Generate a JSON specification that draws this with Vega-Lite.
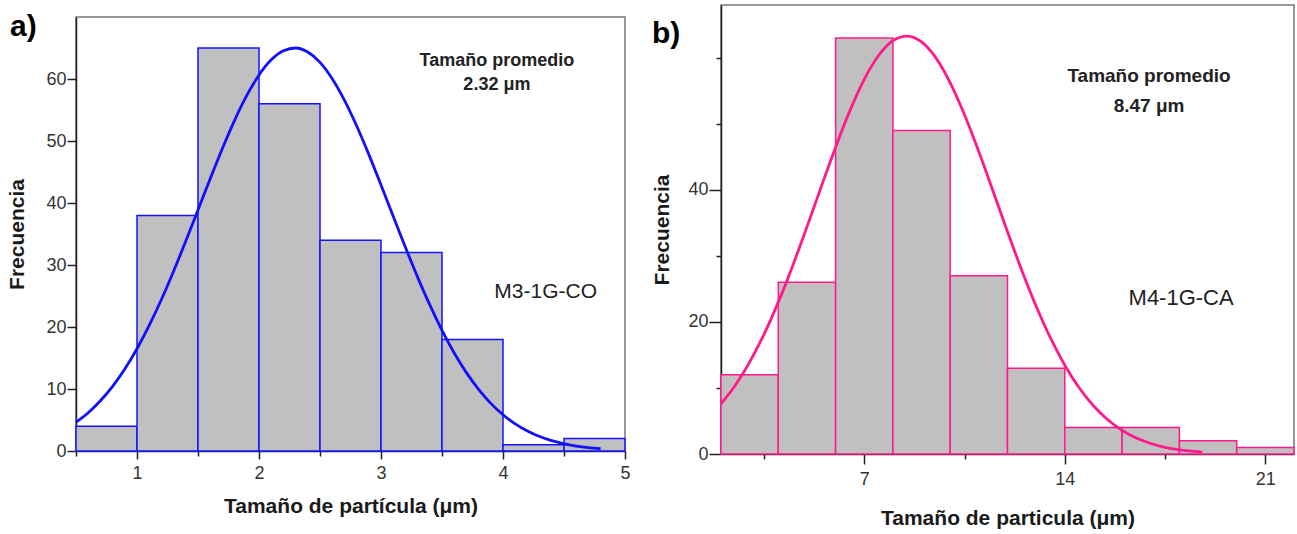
{
  "$schema": "https://vega.github.io/schema/vega-lite/v6.json",
  "background": "white",
  "padding": {"left": 6, "top": 4, "right": 0, "bottom": 0},
  "spacing": 20,
  "config": {
    "font": "Liberation Sans",
    "view": {"stroke": "#777777", "strokeWidth": 1.5},
    "axis": {
      "grid": false,
      "labelFont": "Liberation Sans",
      "labelFontSize": 18,
      "labelColor": "#333333",
      "titleFont": "Liberation Sans",
      "titleFontSize": 21,
      "titleFontWeight": "bold",
      "titleColor": "#1a1a1a",
      "domainColor": "#222222",
      "domainWidth": 1.5,
      "tickColor": "#222222",
      "tickWidth": 1.5,
      "format": "~g"
    },
    "title": {"font": "Liberation Sans", "fontSize": 30, "fontWeight": "bold", "color": "#000000"}
  },
  "datasets": {
    "barsA": [
      {"x0": 0.5, "x1": 1.0, "count": 4},
      {"x0": 1.0, "x1": 1.5, "count": 38},
      {"x0": 1.5, "x1": 2.0, "count": 65},
      {"x0": 2.0, "x1": 2.5, "count": 56},
      {"x0": 2.5, "x1": 3.0, "count": 34},
      {"x0": 3.0, "x1": 3.5, "count": 32},
      {"x0": 3.5, "x1": 4.0, "count": 18},
      {"x0": 4.0, "x1": 4.5, "count": 1},
      {"x0": 4.5, "x1": 5.0, "count": 2}
    ],
    "curveA": [
      {"x": 0.5, "y": 4.64}, {"x": 0.6, "y": 6.18}, {"x": 0.7, "y": 8.11}, {"x": 0.8, "y": 10.44},
      {"x": 0.9, "y": 13.23}, {"x": 1.0, "y": 16.5}, {"x": 1.1, "y": 20.25}, {"x": 1.2, "y": 24.43},
      {"x": 1.3, "y": 29.0}, {"x": 1.4, "y": 33.86}, {"x": 1.5, "y": 38.88}, {"x": 1.6, "y": 43.92},
      {"x": 1.7, "y": 48.8}, {"x": 1.8, "y": 53.34}, {"x": 1.9, "y": 57.35}, {"x": 2.0, "y": 60.65},
      {"x": 2.1, "y": 63.09}, {"x": 2.2, "y": 64.57}, {"x": 2.3, "y": 65.0}, {"x": 2.4, "y": 64.35},
      {"x": 2.5, "y": 62.68}, {"x": 2.6, "y": 60.05}, {"x": 2.7, "y": 56.6}, {"x": 2.8, "y": 52.46},
      {"x": 2.9, "y": 47.84}, {"x": 3.0, "y": 42.91}, {"x": 3.1, "y": 37.86}, {"x": 3.2, "y": 32.86},
      {"x": 3.3, "y": 28.05}, {"x": 3.4, "y": 23.56}, {"x": 3.5, "y": 19.46}, {"x": 3.6, "y": 15.81},
      {"x": 3.7, "y": 12.64}, {"x": 3.8, "y": 9.94}, {"x": 3.9, "y": 7.68}, {"x": 4.0, "y": 5.84},
      {"x": 4.1, "y": 4.37}, {"x": 4.2, "y": 3.22}, {"x": 4.3, "y": 2.33}, {"x": 4.4, "y": 1.66},
      {"x": 4.5, "y": 1.16}, {"x": 4.6, "y": 0.8}, {"x": 4.7, "y": 0.54}, {"x": 4.8, "y": 0.36}
    ],
    "barsB": [
      {"x0": 2, "x1": 4, "count": 12},
      {"x0": 4, "x1": 6, "count": 26},
      {"x0": 6, "x1": 8, "count": 63},
      {"x0": 8, "x1": 10, "count": 49},
      {"x0": 10, "x1": 12, "count": 27},
      {"x0": 12, "x1": 14, "count": 13},
      {"x0": 14, "x1": 16, "count": 4},
      {"x0": 16, "x1": 18, "count": 4},
      {"x0": 18, "x1": 20, "count": 2},
      {"x0": 20, "x1": 22, "count": 1}
    ],
    "curveB": [
      {"x": 2.0, "y": 7.59}, {"x": 2.5, "y": 10.41}, {"x": 3.0, "y": 13.91}, {"x": 3.5, "y": 18.11},
      {"x": 4.0, "y": 23.0}, {"x": 4.5, "y": 28.49}, {"x": 5.0, "y": 34.4}, {"x": 5.5, "y": 40.49},
      {"x": 6.0, "y": 46.47}, {"x": 6.5, "y": 52.0}, {"x": 7.0, "y": 56.74}, {"x": 7.5, "y": 60.35},
      {"x": 8.0, "y": 62.6}, {"x": 8.5, "y": 63.3}, {"x": 9.0, "y": 62.41}, {"x": 9.5, "y": 59.99},
      {"x": 10.0, "y": 56.22}, {"x": 10.5, "y": 51.38}, {"x": 11.0, "y": 45.77}, {"x": 11.5, "y": 39.76},
      {"x": 12.0, "y": 33.67}, {"x": 12.5, "y": 27.8}, {"x": 13.0, "y": 22.38}, {"x": 13.5, "y": 17.57},
      {"x": 14.0, "y": 13.45}, {"x": 14.5, "y": 10.03}, {"x": 15.0, "y": 7.3}, {"x": 15.5, "y": 5.18},
      {"x": 16.0, "y": 3.58}, {"x": 16.5, "y": 2.41}, {"x": 17.0, "y": 1.59}, {"x": 17.5, "y": 1.02},
      {"x": 18.0, "y": 0.64}, {"x": 18.5, "y": 0.39}, {"x": 18.8, "y": 0.28}
    ]
  },
  "hconcat": [
    {
      "spacing": 5,
      "vconcat": [
        {
          "width": 549,
          "height": 1,
          "view": {"stroke": null},
          "data": {"values": [{}]},
          "mark": {"type": "rect", "opacity": 0},
          "encoding": {}
        },
        {
          "width": 549,
          "height": 434,
          "title": {"text": "a)", "anchor": "start", "frame": "bounds", "offset": -25, "dx": 3},
          "layer": [
            {
              "data": {"name": "barsA"},
              "mark": {"type": "rect", "fill": "#c0c0c0", "stroke": "#1414ff", "strokeWidth": 1.5},
              "encoding": {
                "x": {"field": "x0", "type": "quantitative",
                  "scale": {"domain": [0.5, 5], "nice": false, "zero": false},
                  "axis": {
                    "title": "Tamaño de partícula (μm)",
                    "values": [0.5, 1, 1.5, 2, 2.5, 3, 3.5, 4, 4.5, 5],
                    "labelExpr": "datum.value % 1 === 0 ? datum.label : ''",
                    "tickSize": {"condition": {"test": "datum.value % 1 === 0", "value": 8}, "value": 5},
                    "labelPadding": 5,
                    "titlePadding": 13,
                    "labelFlush": false
                  }},
                "x2": {"field": "x1"},
                "y": {"field": "count", "type": "quantitative",
                  "scale": {"domain": [0, 70], "nice": false},
                  "axis": {
                    "title": "Frecuencia",
                    "values": [0, 5, 10, 15, 20, 25, 30, 35, 40, 45, 50, 55, 60, 65],
                    "labelExpr": "datum.value % 10 === 0 ? datum.label : ''",
                    "tickSize": {"condition": {"test": "datum.value % 10 === 0", "value": 9}, "value": 5},
                    "labelPadding": 1,
                    "titlePadding": 18,
                    "labelFlush": false
                  }},
                "y2": {"datum": 0}
              }
            },
            {
              "data": {"name": "curveA"},
              "mark": {"type": "line", "color": "#1010ff", "strokeWidth": 2.8, "interpolate": "monotone"},
              "encoding": {
                "x": {"field": "x", "type": "quantitative"},
                "y": {"field": "y", "type": "quantitative"}
              }
            },
            {
              "data": {"values": [{}]},
              "mark": {"type": "text", "text": ["Tamaño promedio", "2.32 μm"], "fontSize": 18, "fontWeight": "bold", "lineHeight": 24, "align": "center", "baseline": "middle", "color": "#222222"},
              "encoding": {"x": {"datum": 3.95}, "y": {"datum": 62.9}}
            },
            {
              "data": {"values": [{}]},
              "mark": {"type": "text", "text": "M3-1G-CO", "fontSize": 21, "align": "center", "baseline": "middle", "color": "#222222"},
              "encoding": {"x": {"datum": 4.35}, "y": {"datum": 25.6}}
            }
          ]
        }
      ]
    },
    {
      "width": 573,
      "height": 449,
      "title": {"text": "b)", "anchor": "start", "frame": "bounds", "offset": -44},
      "layer": [
        {
          "data": {"name": "barsB"},
          "mark": {"type": "rect", "fill": "#c0c0c0", "stroke": "#ff1a8c", "strokeWidth": 1.5},
          "encoding": {
            "x": {"field": "x0", "type": "quantitative",
              "scale": {"domain": [2, 22], "nice": false, "zero": false},
              "axis": {
                "title": "Tamaño de particula (μm)",
                "values": [3.5, 7, 10.5, 14, 17.5, 21],
                "labelExpr": "datum.value % 7 === 0 ? datum.label : ''",
                "tickSize": {"condition": {"test": "datum.value % 7 === 0", "value": 10}, "value": 5},
                "labelPadding": 6,
                "titlePadding": 19,
                "labelFlush": false
              }},
            "x2": {"field": "x1"},
            "y": {"field": "count", "type": "quantitative",
              "scale": {"domain": [0, 68], "nice": false},
              "axis": {
                "title": "Frecuencia",
                "values": [0, 10, 20, 30, 40, 50, 60],
                "labelExpr": "datum.value % 20 === 0 && datum.value < 60 ? datum.label : ''",
                "tickSize": {"condition": {"test": "datum.value % 20 === 0 && datum.value < 60", "value": 12}, "value": 5},
                "labelPadding": 1,
                "titlePadding": 15,
                "labelFlush": false
              }},
            "y2": {"datum": 0}
          }
        },
        {
          "data": {"name": "curveB"},
          "mark": {"type": "line", "color": "#ff1a8c", "strokeWidth": 2.8, "interpolate": "monotone"},
          "encoding": {
            "x": {"field": "x", "type": "quantitative"},
            "y": {"field": "y", "type": "quantitative"}
          }
        },
        {
          "data": {"values": [{}]},
          "mark": {"type": "text", "text": ["Tamaño promedio", "8.47 μm"], "fontSize": 19, "fontWeight": "bold", "lineHeight": 30, "align": "center", "baseline": "middle", "color": "#222222"},
          "encoding": {"x": {"datum": 16.94}, "y": {"datum": 57.2}}
        },
        {
          "data": {"values": [{}]},
          "mark": {"type": "text", "text": "M4-1G-CA", "fontSize": 22, "align": "center", "baseline": "middle", "color": "#222222"},
          "encoding": {"x": {"datum": 18.06}, "y": {"datum": 23.6}}
        }
      ]
    }
  ]
}
